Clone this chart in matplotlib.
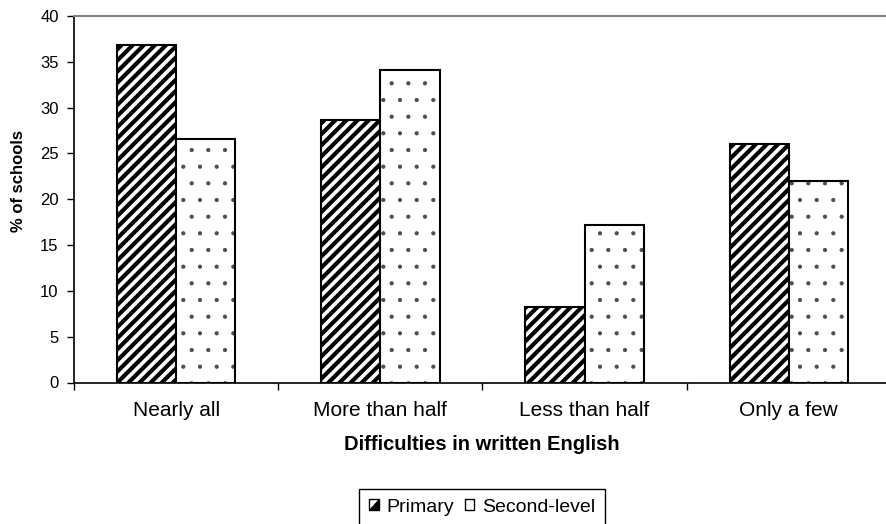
import numpy as np
import matplotlib
matplotlib.use("Agg")
import matplotlib.pyplot as plt
from matplotlib.patches import Rectangle, Polygon
from matplotlib.legend_handler import HandlerBase

# values
categories = ["Nearly all", "More than half", "Less than half", "Only a few"]
primary = [36.8, 28.7, 8.2, 26.0]
second_level = [26.6, 34.1, 17.2, 22.0]
series_names = ["Primary", "Second-level"]
y_ticks = [0, 5, 10, 15, 20, 25, 30, 35, 40]

plt.rcParams["font.family"] = ["Liberation Sans", "DejaVu Sans"]
plt.rcParams["hatch.linewidth"] = 3.0


class KeyHandler(HandlerBase):
    # small square legend key, optionally with a black lower-right half
    def __init__(self, half):
        super().__init__()
        self.half = half

    def create_artists(self, legend, orig_handle, xdescent, ydescent,
                       width, height, fontsize, trans):
        x0, y0 = -xdescent, -ydescent
        arts = [Rectangle((x0, y0), width, height, facecolor="white",
                          edgecolor="none", transform=trans)]
        if self.half:
            arts.append(Polygon([[x0, y0], [x0 + width, y0],
                                 [x0 + width, y0 + height]], closed=True,
                                facecolor="black", edgecolor="none",
                                transform=trans))
        arts.append(Rectangle((x0, y0), width, height, facecolor="none",
                              edgecolor="black", linewidth=1.0,
                              transform=trans))
        return arts


W, H = 887, 524
fig = plt.figure(figsize=(W / 100, H / 100), dpi=100)
# plot area in pixels: left 74, right 891 (just off the picture), top 16, bottom 382.5
ax = fig.add_axes([74 / W, 1 - 382.5 / H, (891 - 74) / W, (382.5 - 16) / H])

x = np.arange(len(categories))
w = 0.29
b1 = ax.bar(x - w / 2, primary, w, color="white", edgecolor="black",
            linewidth=1.5, hatch="///", label=series_names[0])
b2 = ax.bar(x + w / 2, second_level, w, color="white", edgecolor="black",
            linewidth=1.5, hatch=".", label=series_names[1])
for p in b2:
    if hasattr(p, "set_hatch_linewidth"):
        p.set_hatch_linewidth(0.6)
    p._hatch_color = (0.3, 0.3, 0.3, 1.0)

ax.set_xlim(-0.5, len(categories) - 0.5)
ax.set_ylim(0, 40)

ax.spines["right"].set_visible(False)
ax.spines["top"].set_color("#808080")
ax.spines["top"].set_linewidth(1.5)
ax.spines["left"].set_linewidth(1.2)
ax.spines["bottom"].set_linewidth(1.2)

# category labels at centres, tick marks between categories
ax.set_xticks(x)
ax.set_xticklabels(categories)
ax.set_xticks(np.arange(len(categories) + 1) - 0.5, minor=True)
ax.tick_params(axis="x", which="major", length=0, pad=13, labelsize=15)
ax.tick_params(axis="x", which="minor", length=5, width=1, direction="out")

ax.set_yticks(y_ticks)
ax.tick_params(axis="y", length=5, width=1, pad=6, labelsize=12)

fig.text(481.5 / W, 1 - 450 / H, "Difficulties in written English",
         ha="center", va="baseline", fontsize=14.5, fontweight="bold")
fig.text(19 / W, 1 - 181.5 / H, "% of schools", rotation=90,
         ha="center", va="center", fontsize=12, fontweight="bold")

leg = fig.legend(handles=[b1, b2], loc="upper center",
                 bbox_to_anchor=(482 / W, 1 - 489 / H), ncol=2, fontsize=14,
                 frameon=True, fancybox=False, edgecolor="black", framealpha=1,
                 handlelength=0.5, handleheight=0.5, handletextpad=0.4,
                 columnspacing=0.55, borderpad=0.5, borderaxespad=0,
                 handler_map={b1: KeyHandler(True), b2: KeyHandler(False)})
leg.get_frame().set_linewidth(1.0)

fig.savefig("out.png", dpi=100)
